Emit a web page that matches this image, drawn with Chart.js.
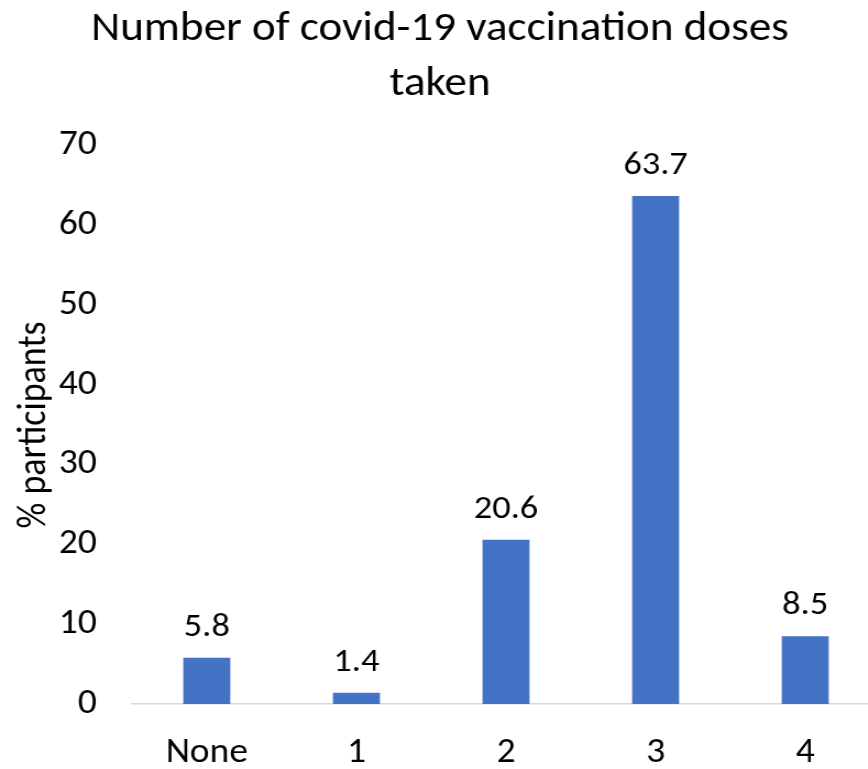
<!DOCTYPE html>
<html>
<head>
<meta charset="utf-8">
<script src="https://cdn.jsdelivr.net/npm/chart.js@4.4.0/dist/chart.umd.min.js"></script>
<style>
    html, body { margin: 0; padding: 0; background: #fff; overflow: hidden; }
    #wrap { width: 868px; height: 769px; overflow: hidden; }
    /* the source picture is stretched sideways a little, so the canvas is too */
    #dosesChart { display: block; width: 880px !important; height: 769px !important; }
</style>
</head>
<body>
<div id="wrap"><canvas id="dosesChart" width="800" height="769"></canvas></div>
<script>
// Chart data
const categories = ['None', '1', '2', '3', '4'];
const participants = [5.8, 1.4, 20.6, 63.7, 8.5];
const yTicks = [0, 10, 20, 30, 40, 50, 60, 70];
const titleLines = ['Number of covid-19 vaccination doses', 'taken'];

const FONT = 'Carlito, Calibri, "Open Sans", sans-serif';

// Value labels above bars
const barLabels = {
    id: 'barLabels',
    afterDatasetsDraw(chart) {
        const ctx = chart.ctx;
        const meta = chart.getDatasetMeta(0);
        ctx.save();
        ctx.font = `33px ${FONT}`;
        ctx.fillStyle = '#000';
        ctx.textAlign = 'center';
        ctx.textBaseline = 'alphabetic';
        meta.data.forEach((bar, i) => {
            ctx.fillText(participants[i].toFixed(1), bar.x, bar.y - 22);
        });
        ctx.restore();
    }
};

new Chart(document.getElementById('dosesChart'), {
    type: 'bar',
    data: {
        labels: categories,
        datasets: [{
            label: '% participants',
            data: participants,
            backgroundColor: '#4472C4',
            categoryPercentage: 1,
            barPercentage: 0.314
        }]
    },
    options: {
        responsive: false,
        animation: false,
        devicePixelRatio: 1,
        layout: { padding: 0 },
        plugins: {
            legend: { display: false },
            tooltip: { enabled: false },
            title: {
                display: true,
                text: titleLines,
                color: '#000',
                font: { family: FONT, size: 41, weight: 'normal', lineHeight: 1.34 },
                padding: { top: 2, bottom: 34 }
            }
        },
        scales: {
            x: {
                grid: { display: false },
                border: { color: '#d9d9d9', width: 1.5 },
                ticks: {
                    color: '#000',
                    font: { family: FONT, size: 34 },
                    padding: 21
                },
                afterFit(scale) { scale.height = 65; }
            },
            y: {
                min: 0,
                max: 70,
                afterBuildTicks(scale) { scale.ticks = yTicks.map(v => ({ value: v })); },
                grid: { display: false },
                border: { display: false },
                ticks: {
                    color: '#000',
                    font: { family: FONT, size: 34 },
                    padding: 24
                },
                title: {
                    display: true,
                    text: '% participants',
                    color: '#000',
                    font: { family: FONT, size: 36 },
                    padding: { top: 10, bottom: 0 }
                },
                afterFit(scale) { scale.width = 120; }
            }
        }
    },
    plugins: [barLabels]
});
</script>
</body>
</html>
